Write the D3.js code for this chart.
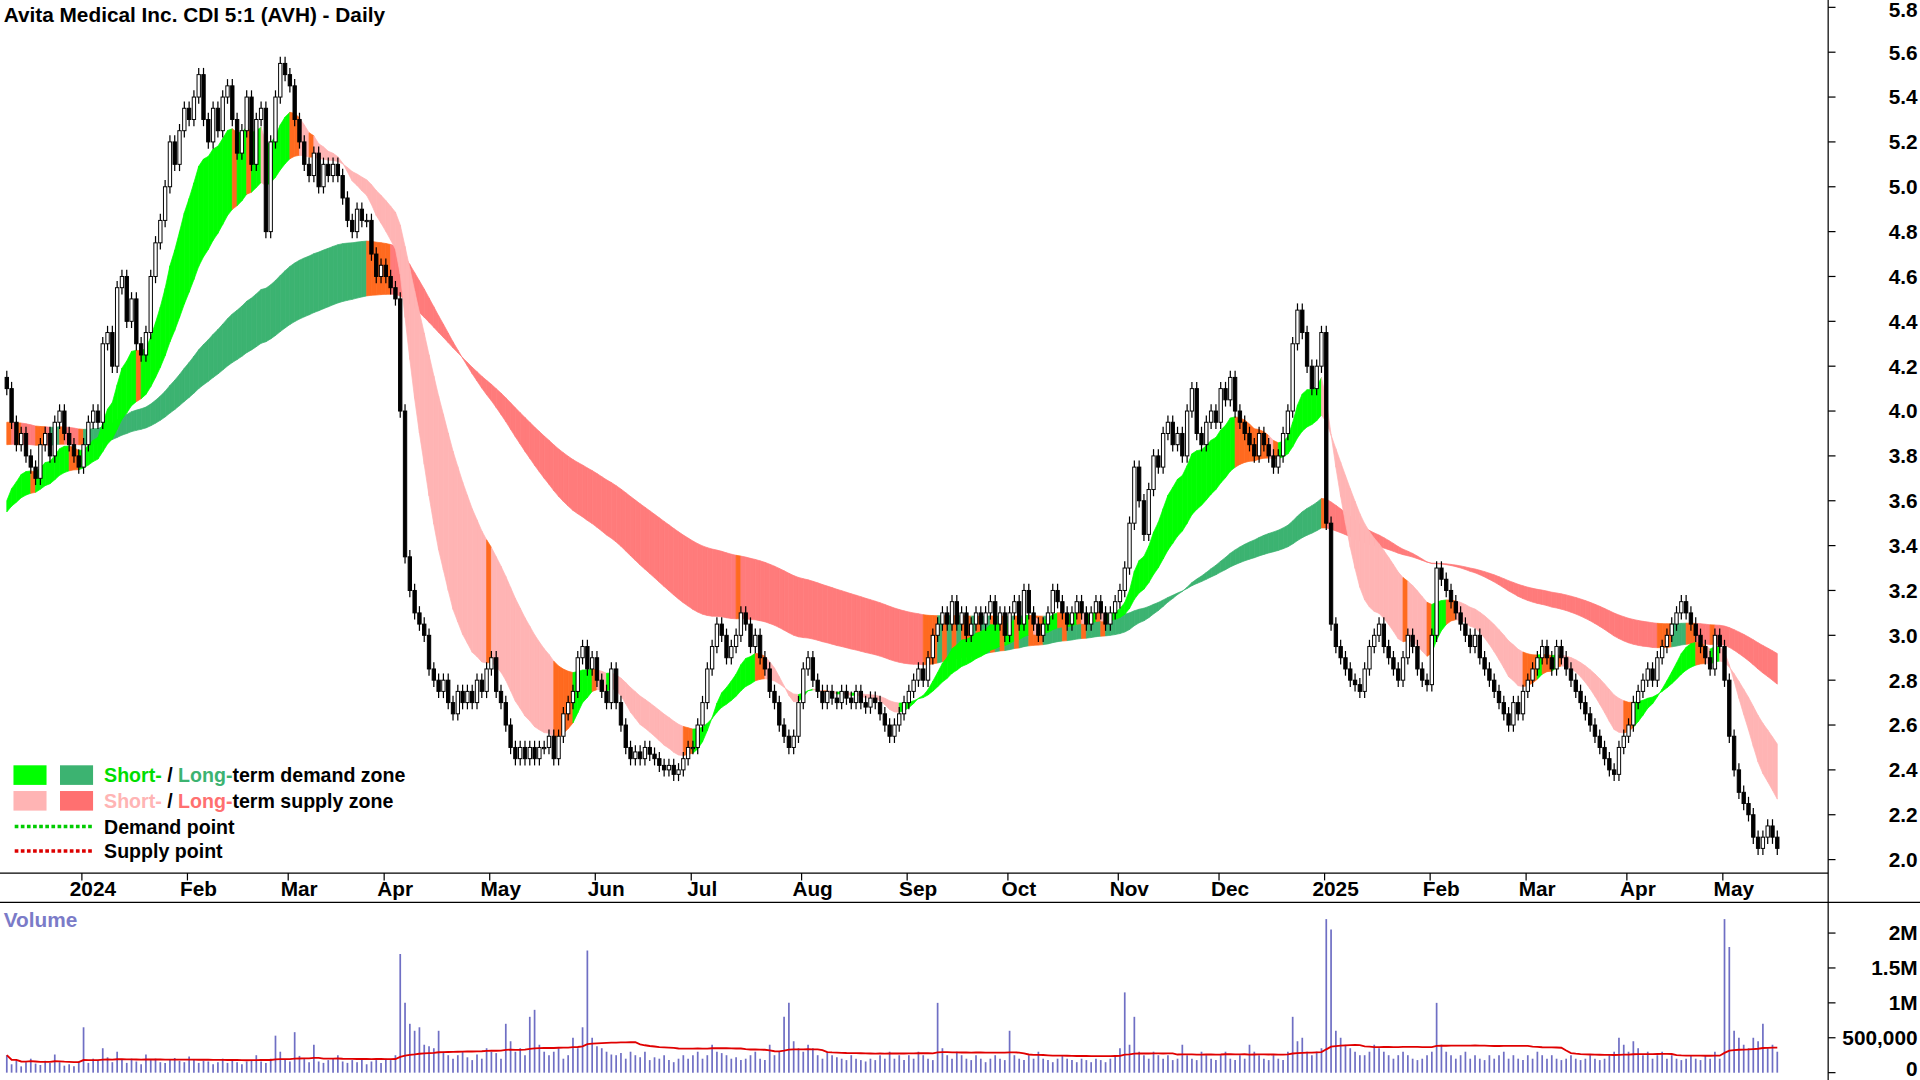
<!DOCTYPE html>
<html><head><meta charset="utf-8">
<script src="https://cdn.jsdelivr.net/npm/d3@7"></script>
<style>body{margin:0;background:#fff;overflow:hidden}text{font-family:Arial,"Liberation Sans",sans-serif}</style>
</head><body><div id="chart"></div>
<script>
// daily closes, one row per month (Dec 2023 .. May 2025)
const closes = [
 [4.1,3.95,3.85,3.9,3.8,3.75,3.7,3.85,3.9,3.8,3.95,4.0,3.9,3.85,3.8,3.75],
 [3.85,3.95,4.0,3.95,4.3,4.35,4.2,4.55,4.6,4.4,4.5,4.3,4.25,4.35,4.6,4.75,4.85,5.0,5.2,5.1,5.25,5.35],
 [5.3,5.4,5.5,5.3,5.2,5.35,5.25,5.4,5.45,5.3,5.15,5.25,5.4,5.1,5.3,5.35,4.8,5.2,5.4,5.55,5.5],
 [5.45,5.3,5.2,5.1,5.05,5.15,5.0,5.1,5.05,5.1,5.05,4.95,4.85,4.8,4.9,4.85,4.85,4.7,4.6,4.65],
 [4.6,4.55,4.5,4.0,3.35,3.2,3.1,3.05,3.0,2.85,2.8,2.75,2.8,2.7,2.65,2.75,2.7,2.75,2.7,2.8,2.75,2.85],
 [2.9,2.75,2.7,2.6,2.5,2.45,2.5,2.45,2.5,2.45,2.5,2.5,2.55,2.45,2.55,2.65,2.7,2.75,2.9,2.95,2.85,2.9],
 [2.8,2.75,2.7,2.85,2.7,2.6,2.5,2.45,2.48,2.45,2.5,2.47,2.45,2.42,2.4,2.42,2.38,2.4,2.45,2.5],
 [2.5,2.6,2.7,2.85,2.95,3.05,3.0,2.9,2.95,3.0,3.1,3.05,2.95,3.0,2.9,2.85,2.75,2.7,2.6,2.55,2.5,2.55,2.7],
 [2.85,2.9,2.8,2.75,2.7,2.75,2.72,2.7,2.75,2.72,2.7,2.75,2.7,2.68,2.72,2.7,2.65,2.6,2.55,2.6,2.65,2.7],
 [2.75,2.8,2.85,2.8,2.9,3.0,3.05,3.1,3.05,3.15,3.05,3.1,3.0,3.05,3.1,3.05,3.1,3.15,3.05,3.1,3.0],
 [3.1,3.15,3.05,3.2,3.1,3.05,3.0,3.05,3.1,3.2,3.15,3.1,3.05,3.1,3.15,3.1,3.05,3.1,3.15,3.1,3.05,3.1,3.15],
 [3.2,3.3,3.5,3.75,3.6,3.45,3.65,3.8,3.75,3.9,3.95,3.85,3.9,3.8,4.0,4.1,3.9,3.85,3.95,4.0,3.95],
 [4.1,4.05,4.15,4.0,3.95,3.9,3.85,3.8,3.9,3.85,3.8,3.75,3.8,3.9,4.0,4.3,4.45,4.35,4.2,4.1,4.2,4.35],
 [3.5,3.05,2.95,2.9,2.85,2.8,2.78,2.75,2.85,2.95,3.0,3.05,2.95,2.9,2.85,2.8,2.9,3.0,2.95,2.85,2.8,2.78],
 [3.0,3.3,3.25,3.2,3.15,3.1,3.05,3.0,2.95,3.0,2.9,2.85,2.8,2.75,2.7,2.65,2.6,2.7,2.65,2.75],
 [2.8,2.85,2.9,2.95,2.9,2.85,2.95,2.9,2.85,2.8,2.75,2.7,2.65,2.6,2.55,2.5,2.45,2.4,2.38,2.5,2.55],
 [2.6,2.7,2.75,2.8,2.85,2.8,2.9,2.95,3.0,3.05,3.1,3.15,3.1,3.05,3.0,2.95,2.9,2.85,3.0,2.95],
 [2.8,2.55,2.4,2.3,2.25,2.2,2.1,2.05,2.1,2.15,2.1,2.05]
];
// daily volume, thousands
const volumes = [
 [250,120,180,90,150,200,130,110,170,140,260,150,100,120,90,160],
 [650,140,200,180,350,220,150,300,180,140,200,160,120,260,180,200,150,140,180,210,170,150],
 [230,180,140,170,160,120,150,200,140,180,150,120,160,180,250,160,140,200,530,300,180],
 [160,580,240,200,150,400,160,140,180,200,250,160,140,180,150,200,120,160,180,140],
 [200,180,250,1700,1000,700,600,650,400,380,350,600,300,250,200,250,300,220,180,260,200,350],
 [300,280,200,700,450,300,350,250,800,900,400,300,250,300,350,200,250,500,350,650,1750,500],
 [380,350,300,260,250,280,200,300,250,220,300,180,220,200,250,180,150,200,250,200],
 [250,300,200,250,400,300,280,250,200,220,180,200,250,300,200,180,400,250,300,800,1000,450,350],
 [300,400,350,250,200,300,250,220,200,180,250,200,180,160,200,180,250,200,300,200,250,180],
 [250,200,300,250,200,180,1000,350,250,200,300,250,200,180,250,200,150,200,250,200,180],
 [600,250,200,180,250,200,300,200,180,150,200,250,200,180,150,200,180,150,200,180,150,200,250],
 [350,1150,400,800,300,250,200,300,250,200,250,180,200,400,250,200,180,300,250,200,180],
 [250,300,200,180,250,200,400,300,250,200,180,250,200,180,300,800,450,500,300,250,300,350],
 [2200,2050,600,500,400,350,300,250,250,300,400,350,300,250,200,250,300,250,200,180,200,250],
 [300,1000,400,300,250,200,250,300,200,250,200,180,250,200,250,300,200,250,200,180],
 [250,200,300,250,200,250,200,180,200,250,200,180,200,250,200,180,200,250,300,500,400],
 [300,450,350,250,300,200,250,300,200,250,200,180,200,250,200,180,250,200,300,200],
 [2200,1800,600,500,400,350,500,450,700,350,400,300]
];
const monthLabels = [null,"2024","Feb","Mar","Apr","May","Jun","Jul","Aug","Sep","Oct","Nov","Dec","2025","Feb","Mar","Apr","May"];
const priceTicks = [2.0,2.2,2.4,2.6,2.8,3.0,3.2,3.4,3.6,3.8,4.0,4.2,4.4,4.6,4.8,5.0,5.2,5.4,5.6,5.8];
const volTicks = [[0,"0"],[500000,"500,000"],[1000000,"1M"],[1500000,"1.5M"],[2000000,"2M"]];

const data = [];
const monthStart = [];
closes.forEach((m, mi) => {
  monthStart.push(data.length);
  m.forEach((c, j) => data.push({c: c, v: volumes[mi][j] * 1000}));
});
data.forEach((d, i) => {
  d.o = i ? data[i-1].c : d.c + 0.05;
  d.h = Math.max(d.o, d.c) + 0.03;
  d.l = Math.min(d.o, d.c) - 0.03;
});
function ema(n, seed) {
  const k = 2 / (n + 1); let e;
  return data.map((d, i) => (e = i ? e + k * (d.c - e) : seed));
}
const s1 = ema(12, 3.6), s2 = ema(30, 3.55), l1 = ema(85, 3.95), l2 = ema(140, 3.85);

const sc = 1920 / 1568;
const svg = d3.select("#chart").append("svg").attr("width", 1920).attr("height", 1080)
  .append("g").attr("transform", "scale(" + sc + ")");
const x = d3.scaleBand().domain(d3.range(data.length)).range([3, 1454]).padding(0.3);
const xc = i => x(i) + x.bandwidth() / 2;
const y = d3.scaleLinear().domain([2, 5.8]).range([702, 6]);
const yv = d3.scaleLinear().domain([0, 2000000]).range([876, 762]);

// zones
function zone(a, b, cols) {
  const g = svg.append("g");
  for (let i = 1; i < data.length; i++) {
    const up = a[i] > a[i-1] && b[i] > b[i-1], dn = a[i] < a[i-1] && b[i] < b[i-1];
    const col = up ? cols[0] : dn ? cols[1] : "#ff6a1f";
    const p = [[xc(i-1), y(a[i-1])], [xc(i), y(a[i])], [xc(i), y(b[i])], [xc(i-1), y(b[i-1])]];
    g.append("path").attr("d", "M" + p.join("L") + "Z").attr("fill", col).attr("stroke", col).attr("stroke-width", 0.6);
  }
}
zone(l1, l2, ["#3cb371", "#ff7b7b"]);
zone(s1, s2, ["#00ff00", "#ffb4b4"]);

// candles
const cg = svg.append("g");
data.forEach((d, i) => {
  cg.append("line").attr("x1", xc(i)).attr("x2", xc(i)).attr("y1", y(d.h)).attr("y2", y(d.l)).attr("stroke", "#000");
  const top = y(Math.max(d.o, d.c)), bot = y(Math.min(d.o, d.c));
  cg.append("rect").attr("x", x(i)).attr("width", x.bandwidth()).attr("y", top).attr("height", Math.max(1, bot - top))
    .attr("fill", d.c >= d.o ? "#fff" : "#000").attr("stroke", "#000").attr("stroke-width", 0.8);
});

// frame lines
svg.append("line").attr("x1", 1493).attr("x2", 1493).attr("y1", 0).attr("y2", 882).attr("stroke", "#000");
svg.append("line").attr("x1", 0).attr("x2", 1493).attr("y1", 713).attr("y2", 713).attr("stroke", "#000");
svg.append("line").attr("x1", 0).attr("x2", 1568).attr("y1", 737).attr("y2", 737).attr("stroke", "#000");

priceTicks.forEach(t => {
  svg.append("line").attr("x1", 1493).attr("x2", 1499).attr("y1", y(t)).attr("y2", y(t)).attr("stroke", "#000");
  svg.append("text").attr("x", 1566).attr("y", Math.max(y(t) + 6, 14)).attr("text-anchor", "end")
    .attr("font-size", 17).attr("font-weight", "bold").text(t.toFixed(1));
});
monthStart.forEach((s, mi) => {
  if (!monthLabels[mi]) return;
  svg.append("line").attr("x1", x(s)).attr("x2", x(s)).attr("y1", 713).attr("y2", 719).attr("stroke", "#000");
  svg.append("text").attr("x", x(s) + 9).attr("y", 732).attr("text-anchor", "middle")
    .attr("font-size", 17).attr("font-weight", "bold").text(monthLabels[mi]);
});

// volume
const vg = svg.append("g");
data.forEach((d, i) => vg.append("line").attr("x1", xc(i)).attr("x2", xc(i)).attr("y1", yv(0)).attr("y2", yv(d.v))
  .attr("stroke", "#6f6fc4").attr("stroke-width", 1.4));
const vma = data.map((d, i) => d3.mean(data.slice(Math.max(0, i - 49), i + 1), e => e.v));
svg.append("path").attr("d", d3.line().x((d, i) => xc(i)).y(d => yv(d))(vma)).attr("fill", "none").attr("stroke", "#e00000").attr("stroke-width", 1.5);
volTicks.forEach(([v, l]) => {
  svg.append("line").attr("x1", 1493).attr("x2", 1499).attr("y1", yv(v)).attr("y2", yv(v)).attr("stroke", "#000");
  svg.append("text").attr("x", 1566).attr("y", Math.min(yv(v) + 6, 879)).attr("text-anchor", "end")
    .attr("font-size", 17).attr("font-weight", "bold").text(l);
});
svg.append("text").attr("x", 3).attr("y", 757).attr("font-size", 17).attr("font-weight", "bold").attr("fill", "#7b7bc8").text("Volume");

// title
svg.append("text").attr("x", 3).attr("y", 18).attr("font-size", 17).attr("font-weight", "bold").text("Avita Medical Inc. CDI 5:1 (AVH) - Daily");

// legend
const lg = svg.append("g").attr("font-size", 16).attr("font-weight", "bold");
[[633, "#00ff00", "#3cb371", "#00dd00", "#3cb371", "demand"], [654, "#ffb4b4", "#ff7070", "#ffb4b4", "#ff7070", "supply"]].forEach(r => {
  lg.append("rect").attr("x", 11).attr("y", r[0] - 8).attr("width", 27).attr("height", 16).attr("fill", r[1]);
  lg.append("rect").attr("x", 49).attr("y", r[0] - 8).attr("width", 27).attr("height", 16).attr("fill", r[2]);
  const t = lg.append("text").attr("x", 85).attr("y", r[0] + 6);
  t.append("tspan").attr("fill", r[3]).text("Short-");
  t.append("tspan").text(" / ");
  t.append("tspan").attr("fill", r[4]).text("Long-");
  t.append("tspan").text("term " + r[5] + " zone");
});
[[675, "#00cc00", "Demand point"], [695, "#dd0000", "Supply point"]].forEach(r => {
  lg.append("line").attr("x1", 12).attr("x2", 76).attr("y1", r[0]).attr("y2", r[0]).attr("stroke", r[1]).attr("stroke-width", 3).attr("stroke-dasharray", "3,2");
  lg.append("text").attr("x", 85).attr("y", r[0] + 6).text(r[2]);
});
</script></body></html>
